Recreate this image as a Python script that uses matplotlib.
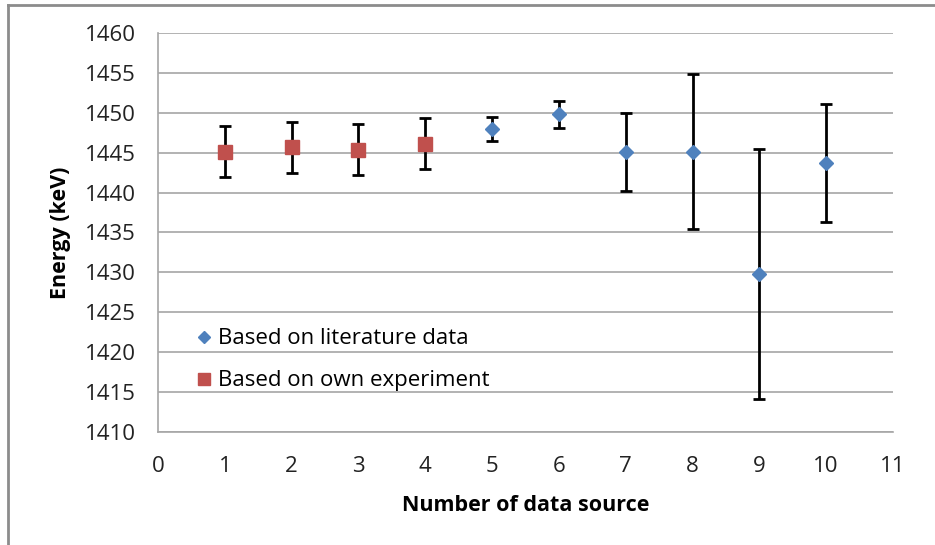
import matplotlib
matplotlib.use("Agg")
import matplotlib.pyplot as plt
from matplotlib.lines import Line2D

# Data
lit_x = [5, 6, 7, 8, 9, 10]
lit_y = [1448.0, 1449.8, 1445.1, 1445.1, 1429.8, 1443.7]
lit_err = [1.5, 1.7, 4.9, 9.7, 15.7, 7.4]

own_x = [1, 2, 3, 4]
own_y = [1445.1, 1445.7, 1445.4, 1446.1]
own_err = [3.2, 3.2, 3.2, 3.2]

xticks = list(range(0, 12))
yticks = list(range(1410, 1461, 5))

plt.rcParams['font.family'] = ['Open Sans', 'DejaVu Sans']

fig = plt.figure(figsize=(9.35, 5.45), dpi=100)
fig.patch.set_facecolor('white')
ax = fig.add_axes([158/935, 1 - 432/545, 735/935, 399/545])

# outer frame (top and left edges visible)
fig.add_artist(Line2D([8/935, 8/935], [0, 1 - 5/545], transform=fig.transFigure, color='#8c8c8c', lw=2))
fig.add_artist(Line2D([8/935, 1], [1 - 5/545, 1 - 5/545], transform=fig.transFigure, color='#8c8c8c', lw=2))

blue = '#4F81BD'
red = '#C0504D'

ax.errorbar(lit_x, lit_y, yerr=lit_err, fmt='D', color=blue, markersize=7.5,
            ecolor='black', elinewidth=2, capsize=4.5, capthick=2, zorder=3)
ax.errorbar(own_x, own_y, yerr=own_err, fmt='s', color=red, markersize=10,
            ecolor='black', elinewidth=2, capsize=4.5, capthick=2, zorder=3)

ax.set_xlim(0, 11)
ax.set_ylim(1410, 1460)
ax.set_xticks(xticks)
ax.set_yticks(yticks)
ax.tick_params(length=0, labelsize=16, colors='#222222')
ax.tick_params(axis='y', pad=16)
ax.tick_params(axis='x', pad=17)
ax.yaxis.grid(True, color='#a6a6a6', lw=1.2)
ax.set_axisbelow(True)
for s in ['top', 'right']:
    ax.spines[s].set_visible(False)
for s in ['left', 'bottom']:
    ax.spines[s].set_color('#a6a6a6')
    ax.spines[s].set_linewidth(1.2)

ax.set_xlabel('Number of data source', fontsize=15.5, fontweight='bold', labelpad=13)
ax.set_ylabel('Energy (keV)', fontsize=15.5, fontweight='bold', labelpad=10)

handles = [Line2D([], [], marker='D', color=blue, ls='none', markersize=6),
           Line2D([], [], marker='s', color=red, ls='none', markersize=8)]
ax.legend(handles, ['Based on literature data', 'Based on own experiment'],
          loc='upper left', bbox_to_anchor=(0.02, 0.31), frameon=False,
          fontsize=16, labelspacing=0.95, handletextpad=0.15, handlelength=1.0)

fig.savefig('out.png', dpi=100)
